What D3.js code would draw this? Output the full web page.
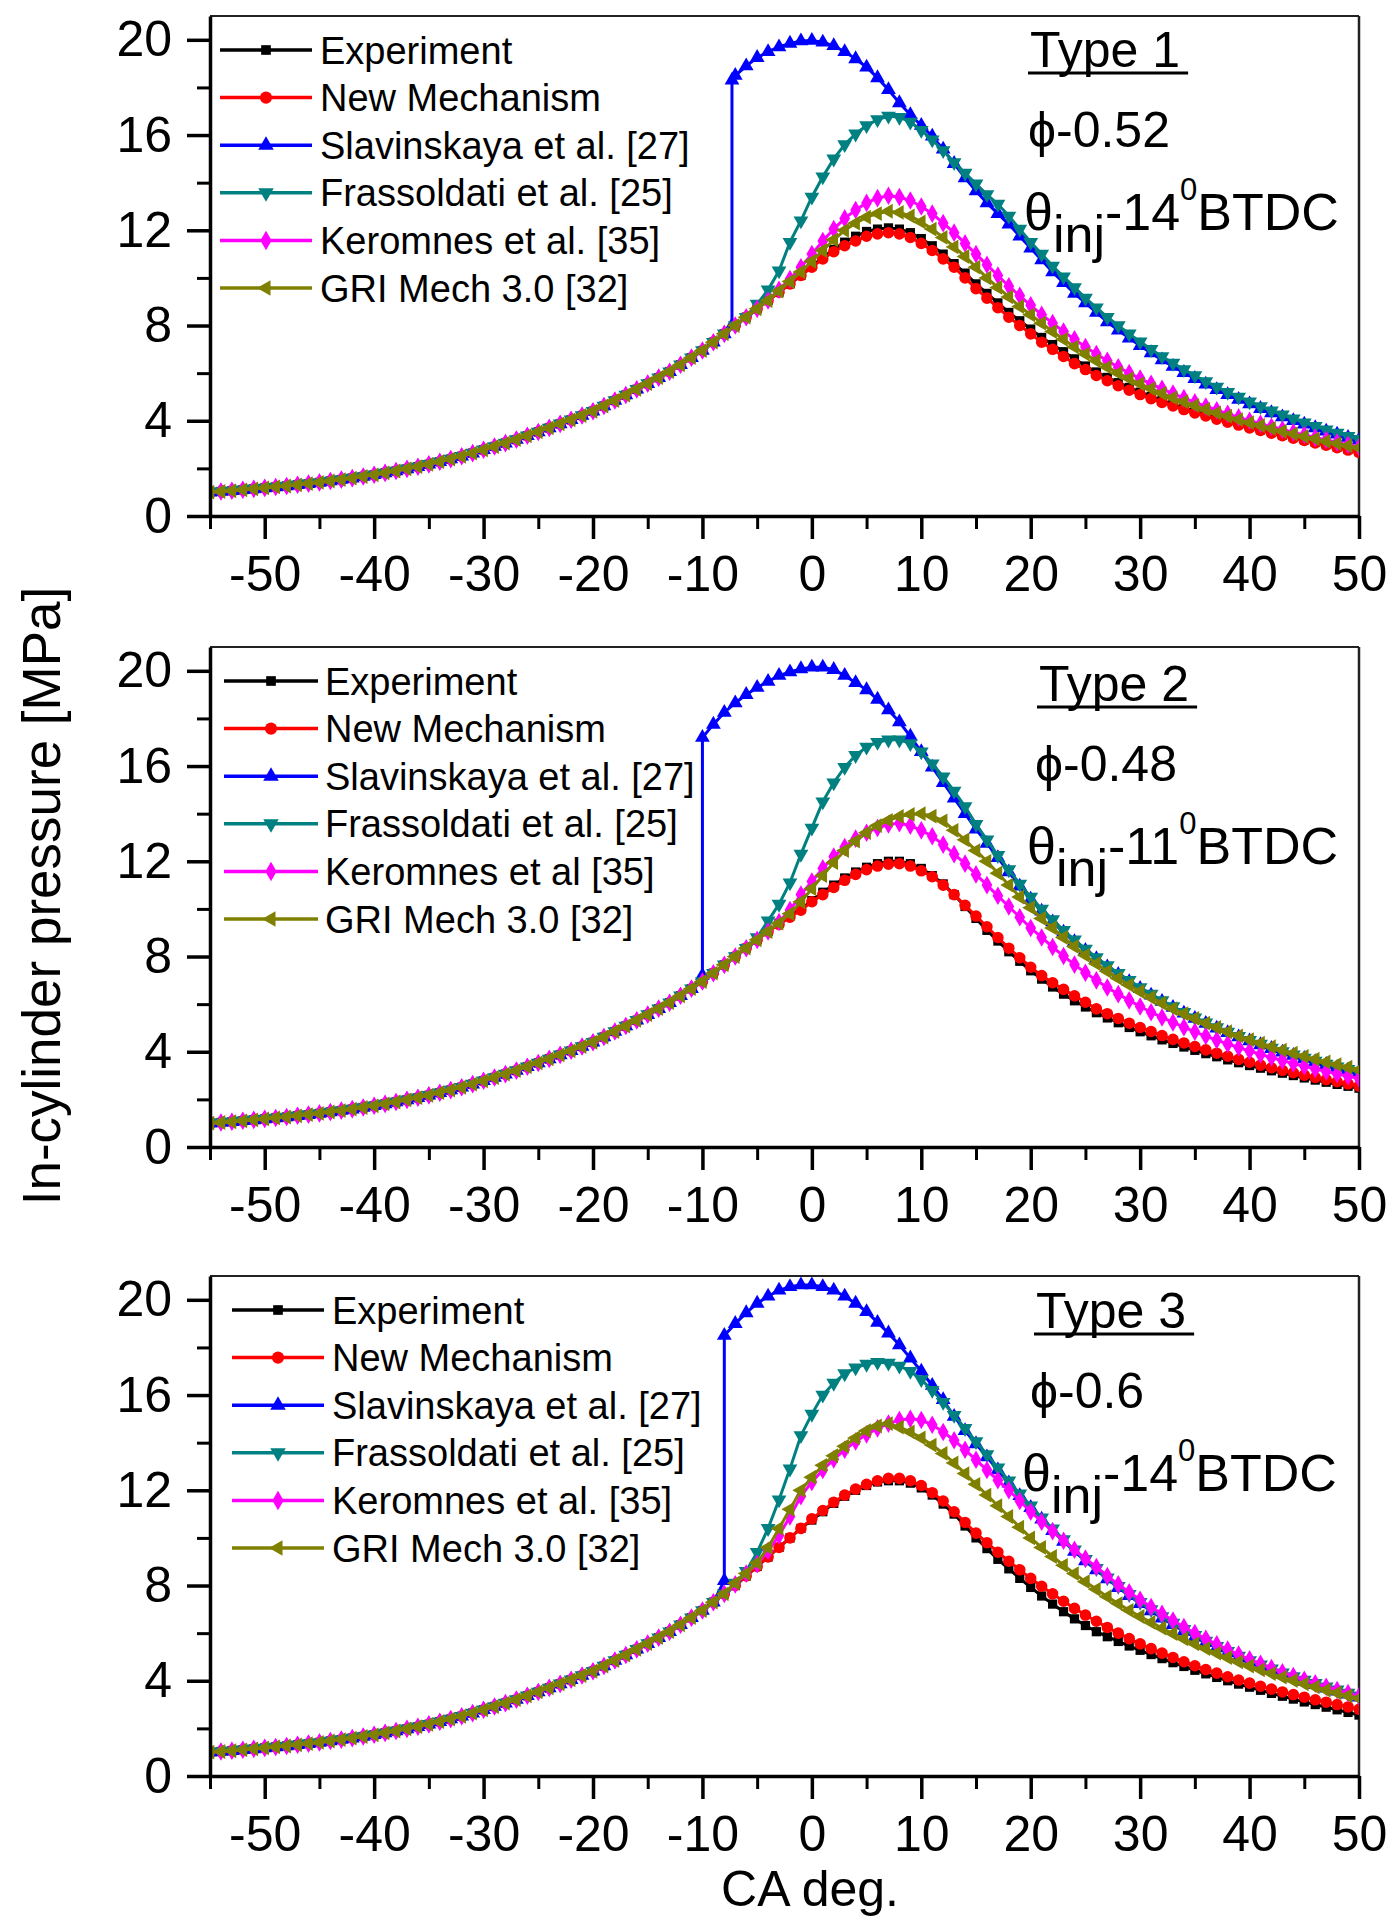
<!DOCTYPE html>
<html><head><meta charset="utf-8">
<script src="https://cdn.jsdelivr.net/npm/d3@7"></script>
<style>
body{margin:0;background:#fff;}
svg text{font-family:"Liberation Sans",Arial,sans-serif;fill:#000;}
</style></head><body>
<svg id="chart" width="1392" height="1916"></svg>
<script>
// ---------------- DATA ----------------
// shared compression-stroke pressure, CA -55 .. -8 (1 deg steps)
const compressionStroke = [1.00,1.03,1.06,1.10,1.14,1.18,1.22,1.26,1.31,1.36,1.41,1.47,1.53,1.59,1.66,1.73,1.81,1.89,1.98,2.07,2.17,2.28,2.39,2.51,2.64,2.78,2.92,3.06,3.21,3.37,3.53,3.70,3.87,4.04,4.22,4.40,4.62,4.85,5.08,5.32,5.56,5.81,6.06,6.35,6.65,6.95,7.30,7.65];

// Panel 1 (Type 1), values CA -7 .. 50
const exp1 = [8.0,8.35,8.7,9.05,9.4,9.75,10.1,10.5,10.85, 11.2,11.5,11.75,11.95,12.05,12.1,12.05,11.9,11.65,11.35, 11.0,10.6,10.2,9.75,9.35,8.95,8.55,8.2,7.85,7.5, 7.2,6.9,6.6,6.3,6.05,5.82,5.6,5.4,5.2,5.02, 4.85,4.69,4.54,4.4,4.26,4.12,3.99,3.86,3.74,3.62, 3.51,3.4,3.3,3.2,3.1,3.0,2.9,2.8,2.7];
const new1 = [8.0,8.35,8.7,9.05,9.4,9.75,10.1,10.45,10.8, 11.1,11.35,11.55,11.75,11.85,11.9,11.85,11.7,11.45,11.15, 10.8,10.45,10.0,9.55,9.15,8.75,8.35,8.0,7.65,7.3, 7.0,6.7,6.4,6.15,5.9,5.68,5.47,5.28,5.1,4.93, 4.77,4.62,4.47,4.33,4.2,4.07,3.94,3.82,3.7,3.59, 3.48,3.37,3.27,3.17,3.07,2.97,2.87,2.77,2.67];
const slav1Ignition = [-7.3, 8.0, 18.3]; // CA, pressure before, pressure after
const slav1 = [18.5,18.9,19.25,19.5,19.7,19.85,19.95,19.97,19.9,19.75, 19.5,19.2,18.85,18.4,17.9,17.35,16.85,16.4,15.95,15.4, 14.8,14.2,13.65,13.15,12.7,12.25,11.75,11.25,10.75,10.25, 9.8,9.35,8.95,8.55,8.15,7.8,7.47,7.15,6.85,6.55, 6.28,6.02,5.77,5.53,5.3,5.09,4.89,4.7,4.51,4.33, 4.16,4.0,3.85,3.7,3.56,3.43,3.3,3.18];
const fras1 = [8.0,8.35,8.9,9.5,10.3,11.5,12.4,13.4,14.25, 15.0,15.6,16.05,16.4,16.65,16.8,16.75,16.55,16.2,15.8, 15.35,14.85,14.4,13.95,13.5,13.1,12.6,12.05,11.5,11.0, 10.5,10.05,9.6,9.15,8.75,8.35,8.0,7.65,7.32,7.0, 6.7,6.42,6.15,5.9,5.65,5.42,5.2,5.0,4.8,4.6, 4.42,4.25,4.08,3.92,3.77,3.62,3.48,3.35,3.22];
const ker1 = [8.0,8.35,8.7,9.05,9.5,9.95,10.45,11.0,11.55, 12.05,12.5,12.85,13.15,13.35,13.45,13.4,13.25,13.0,12.7, 12.3,11.9,11.45,11.0,10.55,10.1,9.65,9.25,8.85,8.45, 8.1,7.75,7.42,7.1,6.8,6.52,6.25,6.0,5.77,5.55, 5.34,5.14,4.95,4.77,4.6,4.44,4.29,4.14,4.0,3.87, 3.75,3.63,3.51,3.4,3.29,3.19,3.09,2.99,2.9];
const gri1 = [8.0,8.35,8.7,9.05,9.45,9.85,10.25,10.7,11.15, 11.6,12.0,12.3,12.55,12.7,12.8,12.75,12.6,12.35,12.05, 11.7,11.3,10.9,10.45,10.0,9.6,9.2,8.8,8.45,8.1, 7.75,7.42,7.1,6.8,6.52,6.25,6.0,5.77,5.55,5.35, 5.15,4.97,4.8,4.64,4.48,4.33,4.19,4.05,3.92,3.8, 3.68,3.56,3.45,3.34,3.24,3.14,3.04,2.95,2.86];

// Panel 2 (Type 2)
const exp2 = [8.0,8.35,8.7,9.05,9.4,9.7,10.0,10.35,10.7, 11.0,11.3,11.55,11.75,11.9,12.0,12.0,11.9,11.7,11.4, 11.05,10.6,10.1,9.6,9.1,8.65,8.2,7.8,7.4,7.05, 6.72,6.42,6.14,5.88,5.64,5.42,5.22,5.02,4.84,4.67, 4.5,4.35,4.2,4.06,3.92,3.79,3.66,3.54,3.42,3.31, 3.2,3.1,3.0,2.9,2.81,2.72,2.63,2.55,2.47];
const new2 = [8.0,8.35,8.7,9.05,9.35,9.65,9.95,10.3,10.6, 10.9,11.2,11.45,11.65,11.8,11.88,11.9,11.8,11.6,11.35, 11.0,10.6,10.15,9.7,9.25,8.8,8.35,7.95,7.55,7.2, 6.9,6.62,6.35,6.08,5.8,5.6,5.4,5.2,5.02,4.85, 4.68,4.52,4.37,4.22,4.08,3.94,3.81,3.68,3.56,3.44, 3.33,3.22,3.12,3.02,2.92,2.83,2.74,2.65,2.56];
const slav2Ignition = [-10, 7.2, 17.2];
const slav2 = [17.75,18.25,18.65,19.0,19.3,19.55,19.8,19.95,20.08,20.15, 20.15,20.05,19.8,19.5,19.2,18.8,18.35,17.85,17.25,16.6, 15.95,15.3,14.65,14.0,13.35,12.75,12.15,11.55,10.95,10.4, 9.9,9.45,9.02,8.62,8.25,7.9,7.56,7.24,6.94,6.65, 6.37,6.11,5.86,5.62,5.4,5.19,4.99,4.8,4.62,4.45, 4.29,4.13,3.98,3.84,3.71,3.58,3.46,3.34,3.23,3.12];
const fras2 = [8.0,8.35,8.8,9.5,10.2,11.1,12.3,13.4,14.5, 15.3,15.95,16.45,16.8,17.0,17.1,17.1,16.95,16.6,16.1, 15.55,14.95,14.3,13.55,12.9,12.25,11.65,11.05,10.5,10.0, 9.55,9.1,8.7,8.32,7.96,7.62,7.3,7.0,6.7,6.42, 6.15,5.9,5.66,5.43,5.22,5.02,4.83,4.65,4.48,4.32, 4.16,4.01,3.87,3.74,3.61,3.49,3.37,3.26,3.15];
const ker2 = [8.0,8.35,8.7,9.05,9.45,9.95,10.6,11.15,11.7, 12.2,12.6,12.95,13.2,13.4,13.55,13.6,13.5,13.3,13.05, 12.7,12.3,11.9,11.45,11.0,10.55,10.1,9.65,9.2,8.8, 8.4,8.02,7.66,7.32,7.0,6.7,6.42,6.16,5.9,5.66, 5.44,5.23,5.03,4.84,4.66,4.49,4.33,4.18,4.03,3.89, 3.76,3.63,3.51,3.39,3.28,3.17,3.07,2.97,2.88];
const gri2 = [8.0,8.35,8.7,9.05,9.4,9.8,10.3,10.85,11.4, 11.95,12.45,12.85,13.2,13.5,13.72,13.88,13.97,14.0,13.9, 13.7,13.3,12.9,12.45,12.0,11.5,11.0,10.5,10.05,9.6, 9.2,8.8,8.42,8.05,7.7,7.38,7.08,6.8,6.53,6.28, 6.04,5.81,5.6,5.4,5.2,5.02,4.84,4.67,4.51,4.36, 4.21,4.07,3.94,3.81,3.69,3.57,3.46,3.35,3.24];

// Panel 3 (Type 3)
const exp3 = [8.0,8.4,8.8,9.2,9.6,10.0,10.4,10.75,11.1, 11.45,11.75,12.0,12.2,12.35,12.4,12.4,12.3,12.1,11.8, 11.42,11.0,10.5,10.0,9.55,9.1,8.7,8.3,7.92,7.56, 7.22,6.9,6.6,6.32,6.06,5.85,5.65,5.46,5.28,5.1, 4.93,4.76,4.6,4.44,4.29,4.14,4.0,3.86,3.73,3.6, 3.47,3.35,3.23,3.11,3.0,2.89,2.78,2.67,2.56];
const new3 = [8.0,8.4,8.8,9.2,9.6,10.0,10.4,10.8,11.15, 11.5,11.8,12.05,12.25,12.4,12.5,12.5,12.4,12.2,11.9, 11.55,11.1,10.65,10.2,9.8,9.4,9.02,8.66,8.3,7.97, 7.65,7.34,7.04,6.76,6.5,6.24,6.0,5.77,5.55,5.35, 5.16,4.98,4.8,4.63,4.47,4.32,4.17,4.03,3.9,3.77, 3.65,3.53,3.42,3.31,3.2,3.1,3.0,2.9,2.8];
const slav3Ignition = [-8, 8.2, 18.5];
const slav3 = [19.0,19.45,19.85,20.15,20.4,20.55,20.62,20.62,20.55,20.4, 20.15,19.85,19.5,19.05,18.6,18.1,17.55,17.0,16.4,15.8, 15.1,14.5,13.95,13.4,12.85,12.3,11.77,11.27,10.78,10.3, 9.85,9.43,9.03,8.65,8.27,7.91,7.57,7.24,6.93,6.63, 6.35,6.08,5.83,5.6,5.38,5.17,4.97,4.78,4.6,4.43, 4.27,4.12,3.97,3.83,3.69,3.56,3.43,3.31];
const fras3 = [8.1,8.6,9.4,10.4,11.6,12.9,14.3,15.2,16.0, 16.5,16.9,17.15,17.3,17.38,17.35,17.22,17.0,16.65,16.2, 15.7,15.15,14.6,14.05,13.5,12.95,12.4,11.85,11.35,10.85, 10.38,9.93,9.5,9.1,8.72,8.33,7.97,7.63,7.3,6.99, 6.7,6.42,6.16,5.91,5.67,5.45,5.24,5.04,4.85,4.67, 4.5,4.34,4.18,4.03,3.89,3.75,3.62,3.49,3.37];
const ker3 = [8.05,8.5,8.9,9.45,10.1,10.9,11.75,12.35,12.85, 13.3,13.7,14.05,14.35,14.6,14.8,14.95,15.0,14.95,14.75, 14.45,14.1,13.7,13.28,12.85,12.42,12.0,11.55,11.1,10.68, 10.28,9.88,9.5,9.13,8.78,8.4,8.05,7.72,7.4,7.1, 6.81,6.53,6.26,6.0,5.76,5.53,5.31,5.1,4.9,4.71, 4.53,4.36,4.2,4.04,3.89,3.75,3.61,3.48,3.35];
const gri3 = [8.1,8.5,8.95,9.6,10.4,11.2,12.0,12.55,13.05, 13.45,13.85,14.2,14.5,14.7,14.8,14.65,14.45,14.2,13.9, 13.55,13.15,12.7,12.25,11.8,11.35,10.9,10.45,10.0,9.6, 9.22,8.85,8.5,8.16,7.84,7.53,7.24,6.96,6.7,6.45, 6.21,5.98,5.76,5.55,5.35,5.16,4.97,4.79,4.62,4.46, 4.3,4.15,4.01,3.87,3.74,3.61,3.49,3.37,3.26];

// labels
const legend1 = ["Experiment","New Mechanism","Slavinskaya et al. [27]","Frassoldati et al. [25]","Keromnes et al. [35]","GRI Mech 3.0 [32]"];
const legend2 = ["Experiment","New Mechanism","Slavinskaya et al. [27]","Frassoldati et al. [25]","Keromnes et al [35]","GRI Mech 3.0 [32]"];
const legend3 = ["Experiment","New Mechanism","Slavinskaya et al. [27]","Frassoldati et al. [25]","Keromnes et al. [35]","GRI Mech 3.0 [32]"];
const typeLabels = ["Type 1","Type 2","Type 3"];
const phiLabels = ["-0.52","-0.48","-0.6"];
const injAngles = ["-14","-11","-14"];
const xTicks = [-50,-40,-30,-20,-10,0,10,20,30,40,50];
const xMinorTicks = [-55,-45,-35,-25,-15,-5,5,15,25,35,45];
const yTicks = [0,4,8,12,16,20];
const yMinorTicks = [2,6,10,14,18];
const colors = ["#000000","#ff0000","#0000ff","#008080","#ff00ff","#808000"];

// ---------------- BUILD ----------------
const caPre = d3.range(-55, -7);   // -55 .. -8
const caPost = d3.range(-7, 51);   // -7 .. 50
function fullSeries(post){
  return caPre.map((c,i)=>[c, compressionStroke[i]]).concat(post.map((v,i)=>[caPost[i], v]));
}
function slavSeries(ign, vals){
  const pre = caPre.map((c,i)=>[c, compressionStroke[i]]).filter(p=>p[0] < ign[0]);
  const start = Math.floor(ign[0]) + 1;
  return pre.concat([[ign[0], ign[1]], [ign[0], ign[2]]], vals.map((v,i)=>[start+i, v]));
}
const panelSeries = [
  [fullSeries(exp1), fullSeries(new1), slavSeries(slav1Ignition, slav1), fullSeries(fras1), fullSeries(ker1), fullSeries(gri1)],
  [fullSeries(exp2), fullSeries(new2), slavSeries(slav2Ignition, slav2), fullSeries(fras2), fullSeries(ker2), fullSeries(gri2)],
  [fullSeries(exp3), fullSeries(new3), slavSeries(slav3Ignition, slav3), fullSeries(fras3), fullSeries(ker3), fullSeries(gri3)]
];
const legends = [legend1, legend2, legend3];

const svg = d3.select('#chart');
svg.append('rect').attr('width',1392).attr('height',1916).attr('fill','#fff');

const FONT = '"Liberation Sans",Arial,sans-serif';
const left = 210, right = 1359, plotH = 500;
const panelTops = [16, 647, 1276];
const legendX = [[220,312,320],[224,318,325],[232,324,332]];
const annX = [[1030,1028,1024],[1039,1035,1027],[1036,1030,1022]];
const annDY = [0, 3, 1];

const x = d3.scaleLinear().domain([-55,50]).range([left,right]);
const markerDefs = [
  [d3.symbolSquare, 85, 0],
  [d3.symbolCircle, 105, 0],
  [d3.symbolTriangle, 95, 0],
  [d3.symbolTriangle, 95, 180],
  [d3.symbolDiamond, 100, 0],
  [d3.symbolTriangle, 95, -90]
];

panelTops.forEach((top, pi)=>{
  const bottom = top + plotH;
  const y = d3.scaleLinear().domain([0,21]).range([bottom, top]);
  const g = svg.append('g');
  const clipId = 'clip' + pi;
  svg.append('clipPath').attr('id', clipId).append('rect')
    .attr('x', left).attr('y', top).attr('width', right-left).attr('height', plotH);

  // frame top & right
  g.append('line').attr('x1',left).attr('x2',right).attr('y1',top).attr('y2',top)
    .attr('stroke','#222').attr('stroke-width',2);
  g.append('line').attr('x1',right).attr('x2',right).attr('y1',top).attr('y2',bottom)
    .attr('stroke','#222').attr('stroke-width',2.5);

  // series
  const dg = g.append('g').attr('clip-path', `url(#${clipId})`);
  const line = d3.line().x(d=>x(d[0])).y(d=>y(d[1]));
  panelSeries[pi].forEach((pts, si)=>{
    const sg = dg.append('g');
    sg.append('path').datum(pts).attr('d', line).attr('fill','none')
      .attr('stroke', colors[si]).attr('stroke-width', 3);
    const sym = d3.symbol().type(markerDefs[si][0]).size(markerDefs[si][1]);
    sg.selectAll('path.m').data(pts).enter().append('path').attr('class','m')
      .attr('d', sym)
      .attr('transform', d=>`translate(${x(d[0])},${y(d[1])}) rotate(${markerDefs[si][2]})`)
      .attr('fill', colors[si]);
  });

  // axes
  const xAxisMinor = d3.axisBottom(x).tickValues(xMinorTicks).tickSize(13).tickSizeOuter(0).tickFormat('');
  const gxm = g.append('g').attr('transform',`translate(0,${bottom})`).call(xAxisMinor);
  gxm.select('.domain').remove();
  gxm.selectAll('line').attr('stroke','#000').attr('stroke-width',3);
  const xAxis = d3.axisBottom(x).tickValues(xTicks).tickSize(23).tickPadding(16).tickSizeOuter(0).tickFormat(d=>String(d));
  const gx = g.append('g').attr('transform',`translate(0,${bottom})`).call(xAxis);
  gx.attr('font-family', FONT).attr('font-size', 50);
  gx.select('.domain').attr('stroke','#000').attr('stroke-width',3.5);
  gx.selectAll('line').attr('stroke','#000').attr('stroke-width',3.5);
  gx.selectAll('text').attr('fill','#000');

  const yAxisMinor = d3.axisLeft(y).tickValues(yMinorTicks).tickSize(13).tickSizeOuter(0).tickFormat('');
  const gym = g.append('g').attr('transform',`translate(${left},0)`).call(yAxisMinor);
  gym.select('.domain').remove();
  gym.selectAll('line').attr('stroke','#000').attr('stroke-width',3);
  const yAxis = d3.axisLeft(y).tickValues(yTicks).tickSize(23).tickPadding(15).tickSizeOuter(0).tickFormat(d=>String(d));
  const gy = g.append('g').attr('transform',`translate(${left},0)`).call(yAxis);
  gy.attr('font-family', FONT).attr('font-size', 50);
  gy.select('.domain').attr('stroke','#000').attr('stroke-width',3.5);
  gy.selectAll('line').attr('stroke','#000').attr('stroke-width',3.5);
  gy.selectAll('text').attr('fill','#000');

  // legend
  const [lx1, lx2, tx] = legendX[pi];
  legends[pi].forEach((name, si)=>{
    const ly = top + 34 + si * 47.6;
    const lg = g.append('g');
    lg.append('line').attr('x1',lx1).attr('x2',lx2).attr('y1',ly).attr('y2',ly)
      .attr('stroke',colors[si]).attr('stroke-width',3.5);
    const sym = d3.symbol().type(markerDefs[si][0]).size(markerDefs[si][1]*1.1);
    lg.append('path').attr('d', sym)
      .attr('transform', `translate(${(lx1+lx2)/2},${ly}) rotate(${markerDefs[si][2]})`)
      .attr('fill', colors[si]);
    lg.append('text').attr('x', tx).attr('y', ly).attr('dy','0.36em')
      .attr('font-size', 38).text(name);
  });

  // annotations
  const [tX, pX, thX] = annX[pi];
  const dy0 = annDY[pi];
  const tt = g.append('text').attr('x', tX).attr('y', top + 51 + dy0)
    .attr('font-size', 50).text(typeLabels[pi]);
  const tw = tt.node().getComputedTextLength();
  g.append('line').attr('x1', tX - 2).attr('x2', tX + tw + 8)
    .attr('y1', top + 57 + dy0).attr('y2', top + 57 + dy0)
    .attr('stroke','#000').attr('stroke-width',3);

  const pt = g.append('text').attr('x', pX).attr('y', top + 131 + dy0).attr('font-size', 50);
  pt.append('tspan').text('\u03D5');
  pt.append('tspan').text(phiLabels[pi]);

  const th = g.append('text').attr('x', thX).attr('y', top + 214 + dy0).attr('font-size', 52);
  th.append('tspan').text('\u03B8');
  th.append('tspan').attr('dy', 22).text('inj');
  th.append('tspan').attr('dy', -22).text(injAngles[pi]);
  th.append('tspan').attr('dy', -30).attr('font-size', 31).text('0');
  th.append('tspan').attr('dy', 30).text('BTDC');
});

// axis titles
svg.append('text').attr('transform','translate(60,896) rotate(-90)')
  .attr('text-anchor','middle').attr('font-size', 53).text('In-cylinder pressure [MPa]');
svg.append('text').attr('x', 810).attr('y', 1906)
  .attr('text-anchor','middle').attr('font-size', 50).text('CA deg.');
</script>
</body></html>
